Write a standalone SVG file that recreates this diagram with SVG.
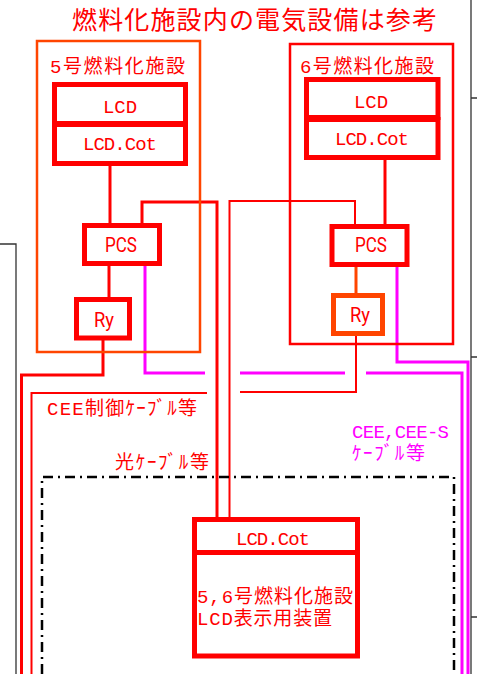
<svg xmlns="http://www.w3.org/2000/svg" width="477" height="674" viewBox="0 0 477 674">
<style>
.bg{fill:#fff}
.box{fill:#fff;stroke:#FF0000;stroke-width:5}
.obox{fill:none;stroke:#FF4500;stroke-width:2.5}
.rbox{fill:none;stroke:#FF0000;stroke-width:2.5}
.w{fill:none;stroke:#FF0000;stroke-width:3}
.wt{fill:none;stroke:#FF0000;stroke-width:2}
.m{fill:none;stroke:#FF00FF;stroke-width:3}
.k{fill:none;stroke:#333;stroke-width:1.3}
.dd{fill:none;stroke:#000;stroke-width:2.5;stroke-dasharray:10 5 2 5}
.t{font-family:"Liberation Mono","Noto Sans CJK JP",monospace;fill:#FF0000}
.c{font-family:Roboto,"Liberation Sans",sans-serif;fill:#FF0000;font-size:21px}
.jp{font-family:"Liberation Mono","Noto Sans CJK JP",sans-serif;font-size:19px;fill:#FF0000}
.mg{fill:#FF00FF}
</style>
<rect class="bg" x="0" y="0" width="477" height="674"/>
<g id="frame">
<path class="k" d="M0,244 H16 V674"/>
<path class="k" d="M471,0 V674 M471,98 H477 M471,357 H477 M471,617 H477"/>
</g>
<text id="title" x="72" y="29" font-family="'Noto Sans CJK JP',sans-serif" font-size="25" fill="#FF0000" textLength="365">燃料化施設内の電気設備は参考</text>
<g id="connectors">
<path class="w" d="M110,164 V225"/>
<path class="w" d="M109,266 V299"/>
<path class="w" d="M103,338 V375 H21.5 V674"/>
<path class="wt" d="M31.5,674 V393 H207"/>
<path class="w" d="M142,225 V202 H217 V519"/>
<path class="wt" d="M355,226 V201 H229.5 V519"/>
<path class="w" d="M385,158 V226"/>
<path class="w" style="stroke:#FF4500" d="M356,267 V295"/>
<path class="wt" d="M356,334 V392 H240"/>
<path class="m" d="M145,266 V373 H205"/>
<path class="m" d="M240,373 H345"/>
<path class="m" d="M366,373 H462 V674"/>
<path class="m" d="M397,267 V362 H468 V674"/>
<path class="dd" d="M42,674 V477 H454 V674"/>
</g>
<g id="fac5">
<rect class="obox" x="37" y="41" width="163" height="311"/>
<text class="jp" x="50" y="73" textLength="135">5号燃料化施設</text>
</g>
<g id="fac6">
<rect class="rbox" x="290" y="44" width="163" height="300"/>
<text class="jp" x="300" y="73" textLength="134">6号燃料化施設</text>
</g>
<g id="lcd5">
<rect class="box" x="54.5" y="84.5" width="131" height="39"/>
<text class="t" x="120" y="113" font-size="19" text-anchor="middle">LCD</text>
</g>
<g id="lcdcot5">
<rect class="box" x="54.5" y="124.5" width="131" height="39"/>
<text class="t" x="120" y="150" font-size="19" text-anchor="middle" textLength="74">LCD.Cot</text>
</g>
<g id="lcd6">
<rect class="box" x="306.5" y="79.5" width="131.5" height="38"/>
<text class="t" x="371" y="108" font-size="19" text-anchor="middle">LCD</text>
</g>
<g id="lcdcot6">
<rect class="box" x="306.5" y="119.5" width="131.5" height="38"/>
<text class="t" x="372" y="145" font-size="19" text-anchor="middle" textLength="74">LCD.Cot</text>
</g>
<g id="pcs5">
<rect class="box" x="84.5" y="225.5" width="75" height="38"/>
<text class="c" x="121" y="252" text-anchor="middle" textLength="32" lengthAdjust="spacingAndGlyphs">PCS</text>
</g>
<g id="pcs6">
<rect class="box" x="332" y="226.5" width="75" height="38"/>
<text class="c" x="371" y="252" text-anchor="middle" textLength="32" lengthAdjust="spacingAndGlyphs">PCS</text>
</g>
<g id="ry5">
<rect class="box" x="76.5" y="299.5" width="53" height="38.5"/>
<text class="c" x="104" y="327" text-anchor="middle" textLength="20" lengthAdjust="spacingAndGlyphs">Ry</text>
</g>
<g id="ry6">
<rect class="box" style="stroke:#FF4500" x="333.5" y="295.5" width="49" height="38"/>
<text class="c" x="360" y="322" text-anchor="middle" textLength="20" lengthAdjust="spacingAndGlyphs">Ry</text>
</g>
<g id="labels">
<text class="jp" x="47" y="415" textLength="150">CEE制御ｹｰﾌﾞﾙ等</text>
<text class="jp" x="115" y="469" textLength="94">光ｹｰﾌﾞﾙ等</text>
<text class="jp mg" x="352" y="438" textLength="97">CEE,CEE-S</text>
<text class="jp mg" x="352" y="460" textLength="73">ｹｰﾌﾞﾙ等</text>
</g>
<g id="display">
<rect class="box" x="194.5" y="519.5" width="163" height="33"/>
<rect class="box" x="194.5" y="552.5" width="163" height="103.5"/>
<text class="t" x="273" y="545" font-size="19" text-anchor="middle" textLength="74">LCD.Cot</text>
<text class="jp" x="197" y="603" textLength="156">5,6号燃料化施設</text>
<text class="jp" x="197" y="625" textLength="135">LCD表示用装置</text>
</g>
</svg>
